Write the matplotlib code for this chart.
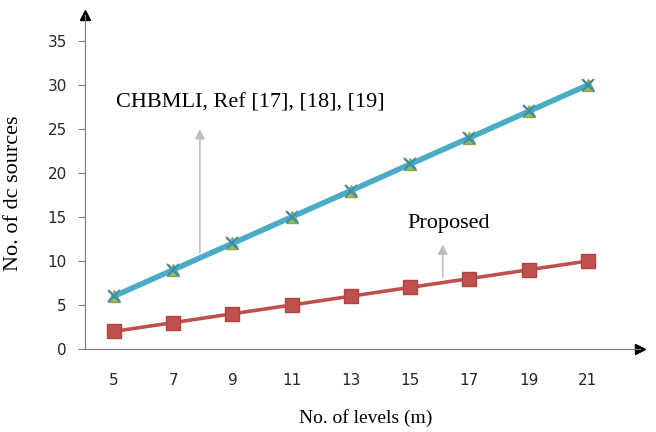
import numpy as np
import matplotlib.pyplot as plt

levels = [5, 7, 9, 11, 13, 15, 17, 19, 21]
chbmli = [6, 9, 12, 15, 18, 21, 24, 27, 30]
ref17 = [6, 9, 12, 15, 18, 21, 24, 27, 30]
ref18 = [6, 9, 12, 15, 18, 21, 24, 27, 30]
ref19 = [6, 9, 12, 15, 18, 21, 24, 27, 30]
proposed = [2, 3, 4, 5, 6, 7, 8, 9, 10]
yticks = [0, 5, 10, 15, 20, 25, 30, 35]

serif = ['Liberation Serif', 'DejaVu Serif']

fig = plt.figure(figsize=(6.56, 4.32), dpi=100)
ax = fig.add_axes([85 / 656, 83 / 432, 555 / 656, 334 / 432])

# overlapping series (same values), markers mostly hidden by the teal line
ax.plot(levels, ref17, color='none', marker='^', ms=8, mfc='#9BBB59', mec='#8AA84E', zorder=3)
ax.plot(levels, ref18, color='none', marker='x', ms=9, mew=1.5, mec='#5F8A9A', zorder=3)
ax.plot(levels, chbmli, color='#4BACC6', lw=4, solid_capstyle='round', zorder=4)
ax.plot(levels, ref19, color='none', marker='x', ms=7, mew=1.5, mec='#3E8FA5', zorder=5)
ax.plot(levels, proposed, color='#C0504D', lw=2.6, marker='s', ms=9.5,
        mfc='#C0504D', mec='#B04440', zorder=4)

ax.set_xlim(4.02, 22.76)
ax.set_ylim(0, 37.95)
ax.set_xticks(levels)
ax.set_yticks(yticks)
ax.tick_params(axis='x', length=0, pad=17, labelsize=11, labelcolor='#262626')
ax.tick_params(axis='y', length=5, width=0.8, color='#808080', pad=8,
               labelsize=11, labelcolor='#262626')

for s in ['top', 'right']:
    ax.spines[s].set_visible(False)
for s in ['left', 'bottom']:
    ax.spines[s].set_color('#808080')
    ax.spines[s].set_linewidth(0.9)

# arrow heads on the axes
ax.plot(1, 0, '>', color='black', ms=7, transform=ax.get_yaxis_transform(), clip_on=False)
ax.plot(4.02, 1, '^', color='black', ms=7, transform=ax.get_xaxis_transform(), clip_on=False)

ax.set_xlabel('No. of levels (m)', family=serif, fontsize=14)
ax.set_ylabel('No. of dc sources', family=serif, fontsize=16)
ax.xaxis.set_label_coords((366 - 85) / 555, -(409 - 349) / 334)
ax.yaxis.set_label_coords(-(85 - 23) / 555, (349 - 193) / 334)

# annotations
ax.annotate('', xy=(7.9, 25.3), xytext=(7.9, 10.6),
            arrowprops=dict(arrowstyle='-|>', color='#BFBFBF', lw=1.2, mutation_scale=14))
ax.text(5.05, 27.9, 'CHBMLI, Ref [17], [18], [19]', family=serif, fontsize=16,
        va='center', ha='left')
ax.annotate('', xy=(16.1, 12.2), xytext=(16.1, 7.9),
            arrowprops=dict(arrowstyle='-|>', color='#BFBFBF', lw=1.2, mutation_scale=14))
ax.text(16.3, 14.3, 'Proposed', family=serif, fontsize=16, va='center', ha='center')

fig.savefig('out.png', dpi=100)
